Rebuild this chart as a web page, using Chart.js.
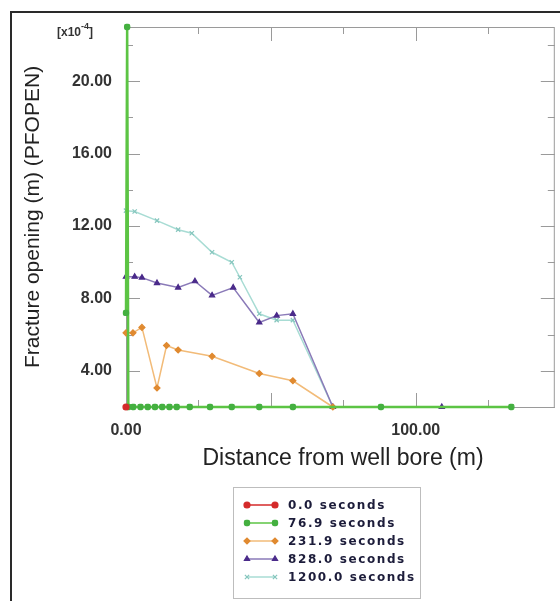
<!DOCTYPE html>
<html>
<head>
<meta charset="utf-8">
<script src="https://cdn.jsdelivr.net/npm/chart.js@4.4.0/dist/chart.umd.min.js"></script>
<style>
  html, body { margin: 0; padding: 0; background: #fff; }
  canvas { display: block; }
</style>
</head>
<body>
<canvas id="chart" width="560" height="601"></canvas>
<script>
// series: distance from well bore (m) and fracture opening (x10^-4 m)
const labels = ['0.0 seconds', '76.9 seconds', '231.9 seconds', '828.0 seconds', '1200.0 seconds'];

const distRed = [0];
const openRed = [2.0];

const distGreen = [0, 0.4, 0.8, 2.5, 5, 7.5, 10, 12.5, 15, 17.5, 22, 29, 36.5, 46, 57.6, 88, 133];
const openGreen = [7.2, 23.0, 2.0, 2.0, 2.0, 2.0, 2.0, 2.0, 2.0, 2.0, 2.0, 2.0, 2.0, 2.0, 2.0, 2.0, 2.0];

const distOrange = [0, 2.4, 5.5, 10.7, 14, 18, 29.7, 46, 57.6, 71.4];
const openOrange = [6.1, 6.1, 6.4, 3.05, 5.4, 5.15, 4.8, 3.85, 3.45, 2.0];

const distPurple = [0, 3, 5.5, 10.7, 18, 23.8, 29.7, 37, 46, 52, 57.6, 71.4, 109];
const openPurple = [9.2, 9.2, 9.15, 8.85, 8.6, 8.95, 8.17, 8.6, 6.67, 7.05, 7.15, 2.0, 2.0];

const distCyan = [0, 3, 10.7, 18, 22.7, 29.7, 36.5, 39.3, 46, 52, 57.6, 71.4];
const openCyan = [12.85, 12.8, 12.3, 11.8, 11.6, 10.55, 10.0, 9.17, 7.15, 6.8, 6.8, 2.0];

// axis ticks
const xLabelTicks = [0, 100];
const xMajorTicks = [0, 50, 100];
const xMinorTicks = [25, 75, 125];
const yLabelTicks = [4, 8, 12, 16, 20];
const yMinorTicks = [2, 6, 10, 14, 18, 22];

function pts(xs, ys) {
  return xs.map((x, i) => ({ x: x, y: ys[i] }));
}

// inward ticks, frame, titles and legend box
const decor = {
  id: 'decor',
  beforeDatasetsDraw(chart) {
    const ctx = chart.ctx;
    const a = chart.chartArea;
    const xs = chart.scales.x, ys = chart.scales.y;
    ctx.save();
    ctx.strokeStyle = '#9a9a9a';
    ctx.lineWidth = 1;
    ctx.strokeRect(a.left + 0.5, a.top + 0.5, a.right - a.left - 1, a.bottom - a.top);
    ctx.beginPath();
    const tx = (v, len) => {
      const p = Math.round(xs.getPixelForValue(v)) + 0.5;
      ctx.moveTo(p, a.bottom); ctx.lineTo(p, a.bottom - len);
      ctx.moveTo(p, a.top); ctx.lineTo(p, a.top + len);
    };
    const ty = (v, len) => {
      const p = Math.round(ys.getPixelForValue(v)) + 0.5;
      ctx.moveTo(a.left, p); ctx.lineTo(a.left + len, p);
      ctx.moveTo(a.right, p); ctx.lineTo(a.right - len, p);
    };
    xMajorTicks.forEach(v => tx(v, 14));
    xMinorTicks.forEach(v => tx(v, 7));
    yLabelTicks.forEach(v => ty(v, 14));
    yMinorTicks.forEach(v => ty(v, 7));
    ctx.stroke();
    ctx.restore();
  },
  afterDraw(chart) {
    const ctx = chart.ctx;
    const a = chart.chartArea;
    ctx.save();
    // outer frame (left and top)
    ctx.strokeStyle = '#2a2a2a';
    ctx.lineWidth = 2;
    ctx.beginPath();
    ctx.moveTo(11, 601); ctx.lineTo(11, 12); ctx.lineTo(560, 12);
    ctx.stroke();

    // exponent label
    ctx.fillStyle = '#333';
    ctx.font = 'bold 12px "Liberation Sans"';
    ctx.textAlign = 'left';
    ctx.textBaseline = 'middle';
    ctx.fillText('[x10', 57, 33);
    const w = ctx.measureText('[x10').width;
    ctx.font = 'bold 9px "Liberation Sans"';
    ctx.fillText('-4', 57 + w, 27);
    const w2 = ctx.measureText('-4').width;
    ctx.font = 'bold 12px "Liberation Sans"';
    ctx.fillText(']', 57 + w + w2, 33);

    // axis titles
    ctx.fillStyle = '#222';
    ctx.font = '21px "Liberation Sans"';
    ctx.textAlign = 'center';
    ctx.save();
    ctx.translate(33, (a.top + a.bottom) / 2);
    ctx.rotate(-Math.PI / 2);
    ctx.fillText('Fracture opening (m) (PFOPEN)', 0, 0);
    ctx.restore();
    ctx.font = '23px "Liberation Sans"';
    ctx.fillText('Distance from well bore (m)', 343, 459);

    // legend
    ctx.strokeStyle = '#bdbdbd';
    ctx.lineWidth = 1;
    ctx.strokeRect(233.5, 487.5, 187, 111);
    chart.data.datasets.forEach((ds, i) => {
      const y = 505 + i * 18;
      ctx.strokeStyle = ds.borderColor;
      ctx.lineWidth = 1.5;
      ctx.beginPath();
      ctx.moveTo(246, y); ctx.lineTo(276, y);
      ctx.stroke();
      [247, 275].forEach(px => {
        ctx.fillStyle = ds.pointBackgroundColor;
        ctx.strokeStyle = ds.pointBorderColor;
        ctx.lineWidth = 1.2;
        Chart.helpers.drawPoint(ctx, {
          pointStyle: ds.pointStyle, radius: 3, borderWidth: 1.2
        }, px, y);
      });
      ctx.fillStyle = '#1c1c3a';
      ctx.font = 'bold 12px "DejaVu Sans"';
      ctx.letterSpacing = '1.6px';
      ctx.textAlign = 'left';
      ctx.fillText(ds.label, 288, y + 1);
      ctx.letterSpacing = '0px';
    });
    ctx.restore();
  }
};

function series(label, data, line, marker, style, width) {
  return {
    label: label,
    data: data,
    borderColor: line,
    borderWidth: width,
    pointStyle: style,
    pointRadius: 3,
    pointBackgroundColor: marker,
    pointBorderColor: marker,
    pointBorderWidth: 1.2,
    showLine: true,
    tension: 0,
    clip: false
  };
}

const ctx = document.getElementById('chart').getContext('2d');

new Chart(ctx, {
  type: 'scatter',
  data: {
    datasets: [
      series(labels[0], pts(distRed, openRed), '#d42a2a', '#d42a2a', 'circle', 1.5),
      series(labels[1], pts(distGreen, openGreen), '#5cc444', '#44b040', 'rectRounded', 2.5),
      series(labels[2], pts(distOrange, openOrange), '#f2bb78', '#e08a30', 'rectRot', 1.5),
      series(labels[3], pts(distPurple, openPurple), '#8a7ab8', '#4a2a8a', 'triangle', 1.5),
      series(labels[4], pts(distCyan, openCyan), '#a8dcd4', '#86c6be', 'crossRot', 1.5)
    ]
  },
  options: {
    responsive: false,
    animation: false,
    layout: { padding: { top: 27, right: 5, left: 0, bottom: 0 } },
    plugins: { legend: { display: false }, tooltip: { enabled: false } },
    scales: {
      x: {
        type: 'linear',
        min: 0,
        max: 148,
        afterBuildTicks: s => { s.ticks = xLabelTicks.map(v => ({ value: v })); },
        afterFit: s => { s.height = 194; },
        grid: { display: false, drawTicks: false },
        border: { display: false },
        ticks: {
          callback: v => v.toFixed(2),
          font: { family: 'Liberation Sans', size: 16, weight: 'bold' },
          color: '#333',
          padding: 14,
          maxRotation: 0,
          autoSkip: false
        }
      },
      y: {
        min: 2,
        max: 23,
        afterBuildTicks: s => { s.ticks = yLabelTicks.map(v => ({ value: v })); },
        afterFit: s => { s.width = 126; },
        grid: { display: false, drawTicks: false },
        border: { display: false },
        ticks: {
          callback: v => v.toFixed(2),
          font: { family: 'Liberation Sans', size: 16, weight: 'bold' },
          color: '#333',
          padding: 14,
          autoSkip: false
        }
      }
    }
  },
  plugins: [decor]
});
</script>
</body>
</html>
